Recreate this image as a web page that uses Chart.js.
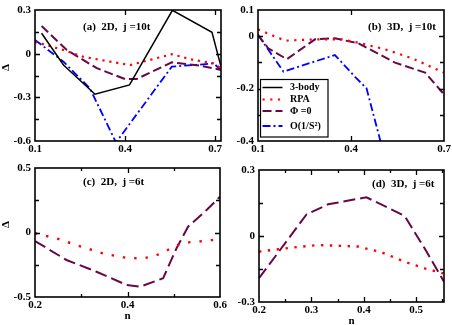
<!DOCTYPE html>
<html><head><meta charset="utf-8">
<script src="https://cdn.jsdelivr.net/npm/chart.js@4"></script>
<style>
html,body{margin:0;padding:0;background:#fff;}
#wrap{position:relative;width:452px;height:325px;overflow:hidden;background:#fff;}
canvas{position:absolute;left:0;top:0;}
</style></head><body>
<div id="wrap">
<canvas id="ca" width="452" height="325"></canvas>
<canvas id="cb" width="452" height="325"></canvas>
<canvas id="cc" width="452" height="325"></canvas>
<canvas id="cd" width="452" height="325"></canvas>
</div>
<script>
// ---------------- DATA ----------------
const seriesNames = ['3-body', 'RPA', 'Φ =0', 'O(1/S²)'];
const panelTitles = ['(a)  2D,  j =10t', '(b)  3D,  j =10t', '(c)  2D,  j =6t', '(d)  3D,  j =6t'];

// (a) 2D, j=10t
const a_body_x = [0.122, 0.195, 0.30, 0.415, 0.558, 0.69, 0.72];
const a_body_y = [0.14, -0.078, -0.279, -0.215, 0.298, 0.147, -0.089];
const a_rpa_x  = [0.10, 0.194, 0.261, 0.35, 0.417, 0.483, 0.556, 0.628, 0.694, 0.72];
const a_rpa_y  = [0.082, 0.025, -0.021, -0.055, -0.078, -0.043, -0.004, -0.043, -0.066, -0.10];
const a_phi_x  = [0.122, 0.206, 0.306, 0.40, 0.439, 0.556, 0.65, 0.72];
const a_phi_y  = [0.19, 0.025, -0.10, -0.174, -0.174, -0.059, -0.082, -0.112];
const a_s2_x   = [0.10, 0.195, 0.283, 0.37, 0.556, 0.65, 0.695, 0.72];
const a_s2_y   = [0.094, -0.055, -0.238, -0.61, -0.089, -0.075, -0.066, -0.112];

// (b) 3D, j=10t
const b_rpa_x = [0.10, 0.187, 0.284, 0.37, 0.424, 0.51, 0.596, 0.70];
const b_rpa_y = [0.026, -0.017, -0.012, -0.012, -0.025, -0.05, -0.084, -0.139];
const b_phi_x = [0.10, 0.133, 0.193, 0.284, 0.348, 0.424, 0.542, 0.639, 0.70];
const b_phi_y = [0.005, -0.046, -0.088, -0.012, -0.008, -0.027, -0.101, -0.139, -0.222];
const b_s2_x  = [0.10, 0.182, 0.348, 0.413, 0.45, 0.494, 0.51];
const b_s2_y  = [0.005, -0.135, -0.072, -0.155, -0.199, -0.396, -0.468];

// (c) 2D, j=6t
const c_rpa_x = [0.20, 0.25, 0.30, 0.35, 0.40, 0.435, 0.46, 0.48, 0.505, 0.535, 0.57, 0.60];
const c_rpa_y = [-0.005, -0.05, -0.11, -0.165, -0.198, -0.20, -0.18, -0.15, -0.10, -0.075, -0.065, -0.05];
const c_phi_x = [0.20, 0.268, 0.333, 0.398, 0.427, 0.477, 0.506, 0.531, 0.571, 0.60];
const c_phi_y = [-0.066, -0.213, -0.304, -0.407, -0.42, -0.355, -0.122, 0.045, 0.174, 0.278];

// (d) 3D, j=6t
const d_rpa_x = [0.20, 0.262, 0.313, 0.389, 0.434, 0.478, 0.516, 0.552];
const d_rpa_y = [-0.071, -0.053, -0.041, -0.048, -0.074, -0.117, -0.147, -0.17];
const d_phi_x = [0.20, 0.291, 0.332, 0.405, 0.478, 0.516, 0.553];
const d_phi_y = [-0.192, 0.099, 0.144, 0.176, 0.091, -0.056, -0.208];

// tick values / labels
const a_xTicks = [0.1, 0.4, 0.7],      a_xLabels = ['0.1', '0.4', '0.7'];
const a_yTicks = [-0.6, -0.3, 0, 0.3], a_yLabels = ['-0.6', '-0.3', '0', '0.3'];
const a_yMinor = [-0.45, -0.15, 0.15];
const b_xTicks = [0.1, 0.4, 0.7],      b_xLabels = ['0.1', '0.4', '0.7'];
const b_yTicks = [-0.4, -0.2, 0, 0.1], b_yLabels = ['-0.4', '-0.2', '0', '0.1'];
const b_yMinor = [-0.3, -0.1];
const c_xTicks = [0.2, 0.4, 0.6],      c_xLabels = ['0.2', '0.4', '0.6'];
const c_xMinor = [0.3, 0.5];
const c_yTicks = [-0.5, 0, 0.5],       c_yLabels = ['-0.5', '0', '0.5'];
const c_yMinor = [-0.25, 0.25];
const d_xTicks = [0.2, 0.3, 0.4, 0.5], d_xLabels = ['0.2', '0.3', '0.4', '0.5'];
const d_xMinor = [0.25, 0.35, 0.45, 0.55];
const d_yTicks = [-0.3, 0, 0.3],       d_yLabels = ['-0.3', '0', '0.3'];
const d_yMinor = [-0.15, 0.15];

// ---------------- STYLE ----------------
const FONT = '"Liberation Serif", "Times New Roman", serif';
const BLACK = '#000000', RED = '#ff0000', MAROON = '#670748', BLUE = '#0000ff';
const pts = (xs, ys) => xs.map((x, i) => ({x: x, y: ys[i]}));

function ds(label, xs, ys, color, dash, width) {
  return {label: label, data: pts(xs, ys), borderColor: color, backgroundColor: color,
    borderWidth: width, borderDash: dash, pointRadius: 0, tension: 0, fill: false,
    borderCapStyle: 'butt', borderJoinStyle: 'miter'};
}

const framePlugin = {
  id: 'frame',
  afterDraw(chart) {
    const o = chart.options.plugins.frame;
    if (!o) return;
    const ctx = chart.ctx, a = chart.chartArea, xs = chart.scales.x, ys = chart.scales.y;
    ctx.save();
    ctx.strokeStyle = '#000';
    ctx.setLineDash([]);
    ctx.lineWidth = 1.3;
    const inside = (s, v) => v > s.min + 1e-9 && v < s.max - 1e-9;
    const xt = (vals, len) => vals.forEach(v => {
      if (!inside(xs, v)) return;
      const p = Math.round(xs.getPixelForValue(v)) + 0.5;
      ctx.beginPath();
      ctx.moveTo(p, a.bottom); ctx.lineTo(p, a.bottom - len);
      ctx.moveTo(p, a.top); ctx.lineTo(p, a.top + len);
      ctx.stroke();
    });
    const yt = (vals, len) => vals.forEach(v => {
      if (!inside(ys, v)) return;
      const p = Math.round(ys.getPixelForValue(v)) + 0.5;
      ctx.beginPath();
      ctx.moveTo(a.left, p); ctx.lineTo(a.left + len, p);
      ctx.moveTo(a.right, p); ctx.lineTo(a.right - len, p);
      ctx.stroke();
    });
    xt(o.xMajor, 5); xt(o.xMinor || [], 3);
    yt(o.yMajor, 5); yt(o.yMinor || [], 4);
    ctx.lineWidth = 1.6;
    ctx.strokeRect(a.left, a.top, a.right - a.left, a.bottom - a.top);

    ctx.fillStyle = '#000';
    ctx.font = 'bold 11px ' + FONT;
    ctx.textBaseline = 'middle';
    ctx.textAlign = 'left';
    ctx.fillText(o.title, o.titleX, o.titleY);
    if (o.xTitle) {
      ctx.textAlign = 'center';
      ctx.fillText(o.xTitle, (a.left + a.right) / 2, a.bottom + 19);
    }
    if (o.yTitle) {
      ctx.save();
      ctx.translate(6.5, (a.top + a.bottom) / 2 - 8);
      ctx.rotate(-Math.PI / 2);
      ctx.textAlign = 'center';
      ctx.fillText(o.yTitle, 0, 0);
      ctx.restore();
    }
    if (o.legend) {
      const L = o.legend;
      ctx.fillStyle = '#fff';
      ctx.fillRect(L.x, L.y, L.w, L.h);
      ctx.lineWidth = 1.2;
      ctx.strokeStyle = '#000';
      ctx.strokeRect(L.x, L.y, L.w, L.h);
      ctx.font = 'bold 10px ' + FONT;
      ctx.textAlign = 'left';
      chart.data.datasets.forEach((d, i) => {
        const y = L.rows[i];
        ctx.strokeStyle = d.borderColor;
        ctx.lineWidth = d.borderWidth;
        ctx.setLineDash(d.borderDash || []);
        ctx.beginPath(); ctx.moveTo(L.x + 2, y); ctx.lineTo(L.x + 22, y); ctx.stroke();
        ctx.setLineDash([]);
        ctx.fillStyle = '#000';
        ctx.fillText(d.label, L.x + 29.5, y);
      });
    }
    ctx.restore();
  }
};

function makeChart(id, datasets, area, xr, yr, xT, xL, yT, yL, frame) {
  const yW = 30, xH = 20;
  const fixY = s => { s.width = yW; s.paddingTop = s.paddingBottom = s.paddingLeft = s.paddingRight = 0; };
  const fixX = s => { s.height = xH; s.paddingTop = s.paddingBottom = s.paddingLeft = s.paddingRight = 0; };
  const tickFont = {family: FONT, size: 11, weight: 'bold'};
  return new Chart(document.getElementById(id), {
    type: 'line',
    data: {datasets: datasets},
    options: {
      responsive: false, animation: false, devicePixelRatio: 1, events: [],
      layout: {padding: {left: area.l - yW, top: area.t, right: 452 - area.r, bottom: 325 - area.b - xH}},
      plugins: {legend: {display: false}, tooltip: {enabled: false}, frame: frame},
      scales: {
        x: {type: 'linear', min: xr[0], max: xr[1],
          grid: {display: false, drawTicks: false}, border: {display: false},
          afterBuildTicks: s => { s.ticks = xT.map(v => ({value: v})); },
          afterFit: fixX,
          ticks: {autoSkip: false, maxRotation: 0, minRotation: 0, padding: 2, color: '#000', font: tickFont,
            callback: (v, i) => xL[i]}},
        y: {type: 'linear', min: yr[0], max: yr[1],
          grid: {display: false, drawTicks: false}, border: {display: false},
          afterBuildTicks: s => { s.ticks = yT.map(v => ({value: v})); },
          afterFit: fixY,
          ticks: {autoSkip: false, padding: 4, color: '#000', font: tickFont,
            callback: (v, i) => yL[i]}}
      }
    },
    plugins: [framePlugin]
  });
}

// (a)
makeChart('ca', [
  ds(seriesNames[0], a_body_x, a_body_y, BLACK, [], 1.5),
  ds(seriesNames[1], a_rpa_x, a_rpa_y, RED, [2.2, 4.8], 2.2),
  ds(seriesNames[2], a_phi_x, a_phi_y, MAROON, [9, 4], 2),
  ds(seriesNames[3], a_s2_x, a_s2_y, BLUE, [8, 3, 2, 3], 1.8)
], {l: 35, t: 10, r: 221, b: 141}, [0.1, 0.72], [-0.6, 0.3], a_xTicks, a_xLabels, a_yTicks, a_yLabels,
  {xMajor: a_xTicks, yMajor: a_yTicks, yMinor: a_yMinor, title: panelTitles[0], titleX: 83, titleY: 27, yTitle: 'Δ'});

// (b)
makeChart('cb', [
  ds(seriesNames[0], [], [], BLACK, [], 1.5),
  ds(seriesNames[1], b_rpa_x, b_rpa_y, RED, [2.2, 5.5], 2.2),
  ds(seriesNames[2], b_phi_x, b_phi_y, MAROON, [9, 4], 2),
  ds(seriesNames[3], b_s2_x, b_s2_y, BLUE, [8, 3, 2, 3], 1.8)
], {l: 258, t: 10, r: 444, b: 141}, [0.1, 0.7], [-0.4, 0.1], b_xTicks, b_xLabels, b_yTicks, b_yLabels,
  {xMajor: b_xTicks, yMajor: b_yTicks, yMinor: b_yMinor, title: panelTitles[1], titleX: 368, titleY: 27,
   legend: {x: 260.5, y: 79.5, w: 67.5, h: 57.5, rows: [87.5, 99.5, 111, 126]}});

// (c)
makeChart('cc', [
  ds(seriesNames[1], c_rpa_x, c_rpa_y, RED, [2.4, 9], 2.4),
  ds(seriesNames[2], c_phi_x, c_phi_y, MAROON, [12, 5], 2)
], {l: 35, t: 168, r: 220, b: 297}, [0.2, 0.6], [-0.5, 0.5], c_xTicks, c_xLabels, c_yTicks, c_yLabels,
  {xMajor: c_xTicks, xMinor: c_xMinor, yMajor: c_yTicks, yMinor: c_yMinor, title: panelTitles[2], titleX: 83, titleY: 182, yTitle: 'Δ', xTitle: 'n'});

// (d)
makeChart('cd', [
  ds(seriesNames[1], d_rpa_x, d_rpa_y, RED, [2.4, 6.5], 2.4),
  ds(seriesNames[2], d_phi_x, d_phi_y, MAROON, [12, 5], 2)
], {l: 259, t: 170, r: 444, b: 302}, [0.2, 0.553], [-0.3, 0.3], d_xTicks, d_xLabels, d_yTicks, d_yLabels,
  {xMajor: d_xTicks, xMinor: d_xMinor, yMajor: d_yTicks, yMinor: d_yMinor, title: panelTitles[3], titleX: 372, titleY: 184, xTitle: 'n'});
</script>
</body></html>
